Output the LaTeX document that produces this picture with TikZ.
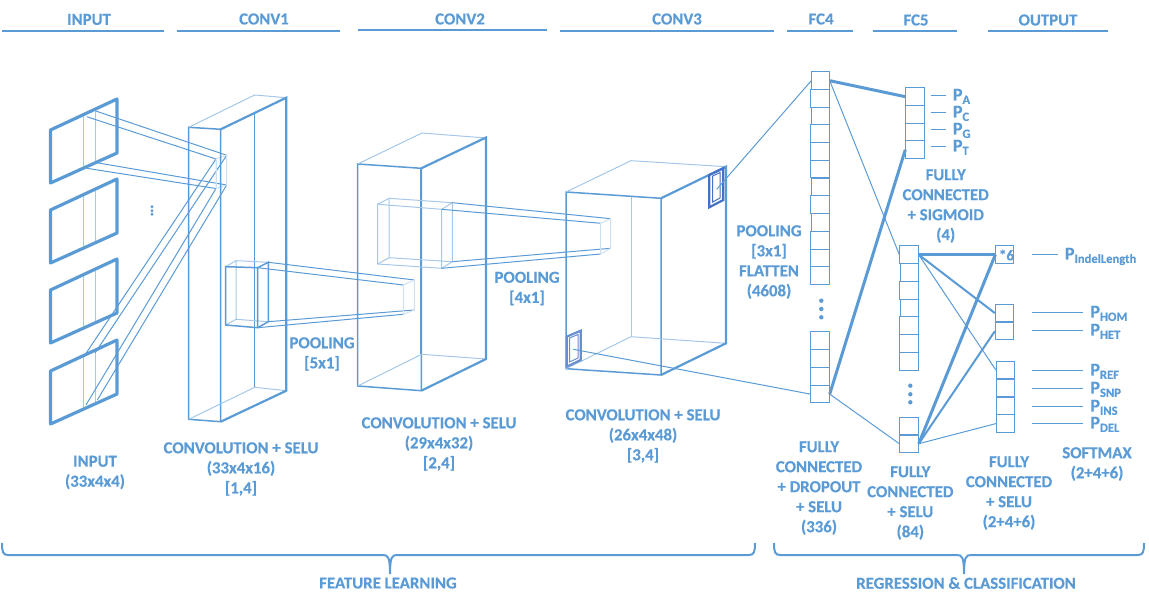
\documentclass[tikz,border=0pt]{standalone}
\usepackage{fontspec}
\setmainfont{Carlito}[BoldFeatures={FakeBold=0.4}]
\usepackage{xcolor}
\usepackage{tikz}
\definecolor{netblue}{HTML}{5B9BD5}
\definecolor{netdark}{HTML}{4472C4}
\newcommand{\probsub}[1]{\raisebox{-1.7pt}{\fontsize{6.3}{7}\selectfont #1}}
\tikzset{
  edge/.style={draw=netblue,line width=0.75pt},
  edgebold/.style={draw=netblue,line width=1.1pt},
  edgelight/.style={draw=netblue!55,line width=0.5pt},
  edgefaint/.style={draw=netblue!30,line width=0.5pt},
  panel/.style={draw=netblue,line width=1.6pt,line join=round},
  link/.style={draw=netblue,line width=0.5pt},
  linkmid/.style={draw=netblue,line width=1pt},
  linkbold/.style={draw=netblue,line width=1.5pt},
  header/.style={font=\fontsize{8.4}{10}\selectfont\bfseries,text=netblue},
  lbl/.style={font=\fontsize{8.4}{10}\selectfont\bfseries,text=netblue,align=center,inner sep=0pt},
  plbl/.style={font=\fontsize{9}{10}\selectfont\bfseries,text=netblue,anchor=west,inner sep=3.5pt,text height=7pt,text depth=1.8pt},
  cellwide/.style={draw=netblue,line width=0.5pt,anchor=north east,inner sep=0pt,minimum width=9.2pt,minimum height=8.9pt},
  cellnarrow/.style={cellwide,minimum width=8.7pt},
  rulebar/.style={draw=netblue,line width=1pt}
}
\begin{document}
\begin{tikzpicture}[x=0.5pt,y=-0.5pt]
  \useasboundingbox (0,0) rectangle (1149,603);

  \foreach \n/\xa/\xb/\ya/\yb/\tx/\tt in {
      input/2/164/30.7/19.5/89/INPUT,conva/177/339.5/30.7/19/264/CONV1,
      convb/358/547/29.7/19/460/CONV2,convc/560/774/30.7/19/677/CONV3,
      fcd/787/853/30.7/19/821/FC4,fce/873/957/30.7/20/916/FC5,
      output/988/1108/30.7/20/1048/OUTPUT} {
    \draw[rulebar] (\xa,\ya) -- (\xb,\ya);
    \node[header] (\n head) at (\tx,\yb) {\tt};
  }

  \foreach \dy in {0,80,160,241} {
    \draw[edgelight] (83.7,114.4+\dy) -- (83.7,168+\dy);
    \draw[edgelight] (95.7,108.9+\dy) -- (95.7,162.5+\dy);
    \draw[panel] (50.5,130+\dy) -- (117,99+\dy) -- (117,153+\dy) -- (50.5,183+\dy) -- cycle;
  }
  \foreach \y in {206.7,210.7,214.3}
    \fill[netblue] (152,\y) circle[radius=1.6];

  \coordinate (ina) at (95.7,111);
  \coordinate (inb) at (86.7,116.7);
  \coordinate (inc) at (96.7,162.7);
  \coordinate (ind) at (86.7,168.3);
  \coordinate (ine) at (86,353.3);
  \coordinate (inf) at (95,353);
  \coordinate (ing) at (86,405);
  \coordinate (inh) at (97.3,400);
  \coordinate (sma) at (226.7,155.3);
  \coordinate (smb) at (216,159);
  \coordinate (smc) at (226.7,185);
  \coordinate (smd) at (216,188.5);
  \draw[link] (ina) -- (sma) (inb) -- (smb) (inc) -- (smc) (ind) -- (smd);
  \draw[link] (ine) -- (smb) (inf) -- (sma) (ing) -- (smd) (inh) -- (smc);
  \draw[edgefaint] (smb) -- (sma) -- (smc) -- (smd) -- cycle;
  \draw[edgefaint] (smb) -- (216,188.5);

  \draw[edge] (188.7,127.3) -- (220.7,129.3) -- (220.7,421.7) -- (188.7,419.3) -- cycle;
  \draw[edgelight] (188.7,127.3) -- (254.7,95) -- (286.3,97.7);
  \draw[edgelight] (188.7,419.3) -- (254.7,387.3) -- (286.3,390.7);
  \draw[edge] (254.7,112) -- (254.7,387.3);
  \draw[edgebold] (220.7,129.3) -- (286.3,97.7) -- (286.3,390.7) -- (220.7,421.7);

  \coordinate (aba) at (268.3,262.3);
  \coordinate (abb) at (257.7,267.7);
  \coordinate (abc) at (268.3,321.7);
  \coordinate (abd) at (257.7,327.7);
  \coordinate (tga) at (414.3,280);
  \coordinate (tgb) at (403.3,285);
  \coordinate (tgc) at (414.3,310);
  \coordinate (tgd) at (403.3,314.3);
  \draw[edgelight] (236,260.7) -- (236,319.3) -- (268.3,321.7);
  \draw[edgelight] (225.7,266.7) -- (236,260.7) -- (268.3,262.3);
  \draw[edgelight] (225.7,325) -- (236,319.3);
  \draw[edge] (225.7,266.7) -- (abb) -- (abd) -- (225.7,325) -- cycle;
  \draw[edge] (abb) -- (aba) -- (abc) -- (abd);
  \draw[link] (aba) -- (tga) (abb) -- (tgb) (abc) -- (tgc) (abd) -- (tgd);
  \draw[edgefaint] (tgb) -- (tga) -- (tgc) -- (tgd) -- cycle;

  \draw[edge] (357.7,164) -- (421.3,168.3) -- (421.3,390.7) -- (357.7,386) -- cycle;
  \draw[edgelight] (357.7,164) -- (422,133) -- (486,138);
  \draw[edgelight] (357.7,386) -- (421.7,354.3) -- (486,359);
  \draw[edgebold] (421.3,168.3) -- (486,137.5) -- (486,359) -- (421.3,390.7);
  \draw[edgebold] (421.3,168.3) -- (421.3,354);

  \coordinate (bca) at (452.3,202.7);
  \coordinate (bcb) at (441.7,209.3);
  \coordinate (bcc) at (452.3,261.7);
  \coordinate (bcd) at (441.7,268.3);
  \coordinate (tha) at (610.7,218.7);
  \coordinate (thb) at (600.7,223.3);
  \coordinate (thc) at (610.7,248.3);
  \coordinate (thd) at (600.7,254);
  \draw[edgelight] (389,198.3) -- (389,257.7) -- (452.3,261.7);
  \draw[edgelight] (377.7,204.3) -- (389,198.3) -- (452.3,202.7);
  \draw[edgelight] (377.7,264) -- (389,257.7);
  \draw[edgelight] (377.7,204.3) -- (bcb) -- (bcd) -- (377.7,264) -- cycle;
  \draw[edgelight] (bcb) -- (bca) -- (bcc) -- (bcd);
  \draw[link] (bca) -- (tha) (bcb) -- (thb) (bcc) -- (thc) (bcd) -- (thd);
  \draw[edgefaint] (thb) -- (tha) -- (thc) -- (thd) -- cycle;

  \draw[edge] (566,192) -- (661,198.3) -- (661,375) -- (566,368.7) -- cycle;
  \draw[edgelight] (566,192) -- (631,160.7) -- (726,166.7);
  \draw[edgelight] (566,368.7) -- (631,336.7) -- (726,343.3);
  \draw[edgelight] (631,197) -- (631,336.7);
  \draw[edgebold] (661,198.3) -- (726,166.7) -- (726,343.3) -- (661,375);

  \draw[draw=netdark,line width=1.1pt] (709.3,175) -- (723.3,168.3) -- (723.3,200) -- (709.3,207.3) -- cycle;
  \draw[draw=netdark,line width=0.5pt] (712.7,176) -- (720,172.5) -- (720,198) -- (712.7,202) -- cycle;
  \draw[draw=netdark!80,line width=1.1pt] (566.7,336.7) -- (580.7,330.7) -- (580.7,360) -- (566.7,366.7) -- cycle;
  \draw[draw=netdark!80,line width=0.5pt] (569.5,338) -- (578,334.5) -- (578,358) -- (569.5,362) -- cycle;
  \coordinate (flata) at (716.7,189.3);
  \coordinate (flatb) at (573.3,349.3);

  \foreach \k/\y/\st in {1/71.3/cellnarrow,2/89.3/cellwide,3/106.7/cellnarrow,
      4/124.3/cellwide,5/142.3/cellwide,6/159.7/cellwide,7/177.7/cellnarrow,
      8/195.3/cellwide,9/213.3/cellnarrow,10/231.3/cellwide,11/248.7/cellwide,
      12/266.3/cellwide,13/331.3/cellwide,14/349.3/cellwide,15/367.3/cellwide,
      16/384.7/cellwide}
    \node[\st] (fcd\k) at (829.7,\y) {};
  \foreach \y in {300.7,309,317.3}
    \fill[netblue] (821.3,\y) circle[radius=2.2];

  \foreach \k/\y in {1/87.3,2/105,3/122.7,4/140.3}
    \node[cellwide] (sig\k) at (924.7,\y) {};

  \foreach \k/\y/\st in {1/245.3/cellwide,2/263.3/cellnarrow,3/281.3/cellwide,
      4/298.7/cellnarrow,5/316.3/cellwide,6/334.3/cellwide,7/352.3/cellwide,
      8/417.3/cellwide,9/434.3/cellwide}
    \node[\st] (fce\k) at (918.7,\y) {};
  \foreach \y in {385.7,394.3,402.3}
    \fill[netblue] (910.3,\y) circle[radius=2.2];

  \node[cellnarrow] (len) at (1013.7,245.3) {};
  \node[font=\fontsize{7.5}{8}\selectfont\bfseries,text=netblue,inner sep=0pt] (lentext) at (1006.5,255) {*6};
  \foreach \n/\y in {hom/303.7,het/321.7}
    \node[cellwide] (\n) at (1014.3,\y) {};
  \foreach \n/\y in {ref/360.7,snp/378.7,ins/396.7,del/414.2}
    \node[cellwide] (\n) at (1015.3,\y) {};

  \draw[link] (flata) -- (fcd1.west);
  \draw[link] (flatb) -- (fcd16.west);
  \draw[linkbold] (fcd1.east) -- (sig1.west);
  \draw[linkbold] (fcd16.east) -- (sig4.west);
  \draw[link] (fcd1.east) -- (fce1.west);
  \draw[link] (fcd16.east) -- (fce9.west);
  \draw[linkbold] (fce1.east) -- (len.west);
  \draw[linkmid] (fce1.east) -- (hom.west);
  \draw[link] (fce1.east) -- (ref.west);
  \draw[linkbold] (fce9.east) -- (len.west);
  \draw[linkmid] (fce9.east) -- (het.west);
  \draw[link] (fce9.east) -- (del.west);

  \foreach \n/\s/\y in {pa/A/95.3,pc/C/112.3,pg/G/129.3,pt/T/146.3} {
    \coordinate (\n from) at (930.7,\y);
    \node[plbl] (\n) at (945.5,\y) {P\probsub{\s}};
    \draw[link] (\n from) -- (\n.west);
  }
  \coordinate (plenfrom) at (1031.7,254.3);
  \node[plbl] (plen) at (1057.5,254.3) {P\probsub{IndelLength}};
  \draw[link] (plenfrom) -- (plen.west);
  \foreach \n/\s/\y in {phom/HOM/312.3,phet/HET/330.3,pref/REF/370.3,psnp/SNP/388.3,
      pins/INS/406.3,pdel/DEL/423.3} {
    \coordinate (\n from) at (1031.7,\y);
    \node[plbl] (\n) at (1083,\y) {P\probsub{\s}};
    \draw[link] (\n from) -- (\n.west);
  }

  \node[lbl] (inputlbl) at (95,472.5) {INPUT\\(33x4x4)};
  \node[lbl] (convalbl) at (241,469) {CONVOLUTION + SELU\\(33x4x16)\\{[1,4]}};
  \node[lbl] (poolalbl) at (322,354) {POOLING\\{[5x1]}};
  \node[lbl] (convblbl) at (439,444) {CONVOLUTION + SELU\\(29x4x32)\\{[2,4]}};
  \node[lbl] (poolblbl) at (527,288.5) {POOLING\\{[4x1]}};
  \node[lbl] (convclbl) at (643,436) {CONVOLUTION + SELU\\(26x4x48)\\{[3,4]}};
  \node[lbl] (poolclbl) at (769,262) {POOLING\\{[3x1]}\\FLATTEN\\(4608)};
  \node[lbl] (fcdlbl) at (819,488) {FULLY\\CONNECTED\\+ DROPOUT\\+ SELU\\(336)};
  \node[lbl] (fcelbl) at (910.3,503) {FULLY\\CONNECTED\\+ SELU\\(84)};
  \node[lbl] (siglbl) at (945.7,206) {FULLY\\CONNECTED\\+ SIGMOID\\(4)};
  \node[lbl] (outlbl) at (1009,493) {FULLY\\CONNECTED\\+ SELU\\(2+4+6)};
  \node[lbl] (softlbl) at (1097,464) {SOFTMAX\\(2+4+6)};

  \draw[rulebar] (2,543) .. controls (2,552) and (3,555) .. (8,555) -- (383,555)
    .. controls (388,555) and (390,557) .. (390,574)
    .. controls (390,557) and (392,555) .. (397,555) -- (749,555)
    .. controls (754,555) and (755,552) .. (755,543);
  \draw[rulebar] (774,543) .. controls (774,552) and (775,555) .. (780,555) -- (957,555)
    .. controls (962,555) and (964,557) .. (964,574)
    .. controls (964,557) and (966,555) .. (971,555) -- (1138,555)
    .. controls (1143,555) and (1144,552) .. (1144,543);
  \node[lbl] (featlbl) at (388,583) {FEATURE LEARNING};
  \node[lbl] (reglbl) at (966,583) {REGRESSION \& CLASSIFICATION};
\end{tikzpicture}
\end{document}
